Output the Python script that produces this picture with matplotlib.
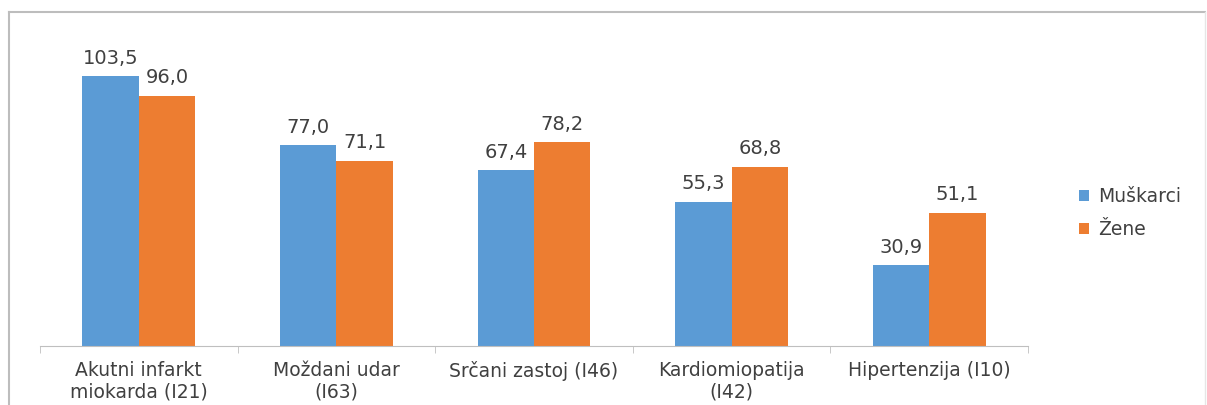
import matplotlib.pyplot as plt
from matplotlib.lines import Line2D
import numpy as np

categories = ["Akutni infarkt\nmiokarda (I21)", "Moždani udar\n(I63)",
              "Srčani zastoj (I46)", "Kardiomiopatija\n(I42)",
              "Hipertenzija (I10)"]
muskarci = [103.5, 77.0, 67.4, 55.3, 30.9]
zene = [96.0, 71.1, 78.2, 68.8, 51.1]
series_names = ["Muškarci", "Žene"]

BLUE = "#5B9BD5"
ORANGE = "#ED7D31"
TEXT = "#404040"

W, H = 1207, 405
fig = plt.figure(figsize=(W / 100, H / 100), dpi=100)
ax = fig.add_axes([40 / W, (H - 346) / H, (1028 - 40) / W, 313 / H])

x = np.arange(len(categories))
width = 0.285
b1 = ax.bar(x - width / 2, muskarci, width, color=BLUE, label=series_names[0])
b2 = ax.bar(x + width / 2, zene, width, color=ORANGE, label=series_names[1])


def fmt(v):
    return "{:.1f}".format(v).replace(".", ",")


for bars, vals in ((b1, muskarci), (b2, zene)):
    for rect, v in zip(bars, vals):
        ax.annotate(fmt(v), (rect.get_x() + rect.get_width() / 2, v),
                    xytext=(0, 6), textcoords="offset points",
                    ha="center", va="bottom", fontsize=14, color=TEXT)

ax.set_xlim(-0.5, len(categories) - 0.5)
ax.set_ylim(0, 120)
ax.set_yticks([])
ax.set_xticks(x)
ax.set_xticklabels(categories, fontsize=13.5, color=TEXT, linespacing=1.15)
ax.tick_params(axis="x", which="major", length=0, pad=11)
ax.set_xticks(np.arange(-0.5, len(categories)), minor=True)
ax.tick_params(axis="x", which="minor", length=5, color="#BFBFBF",
               direction="out")
for side in ("top", "right", "left"):
    ax.spines[side].set_visible(False)
ax.spines["bottom"].set_color("#BFBFBF")

leg = fig.legend(handles=[b1, b2], loc="center left",
                 bbox_to_anchor=(1062 / W, 1 - 213 / H), frameon=False,
                 fontsize=13.5, handlelength=0.55, handleheight=0.55,
                 handletextpad=0.5, labelspacing=0.75)
for t in leg.get_texts():
    t.set_color(TEXT)

# outer chart frame
fig.add_artist(Line2D([9 / W, 1205 / W], [1 - 12 / H, 1 - 12 / H],
                      transform=fig.transFigure, color="#BDBDBD", lw=1.5))
fig.add_artist(Line2D([9 / W, 9 / W], [0, 1 - 12 / H],
                      transform=fig.transFigure, color="#BDBDBD", lw=1.5))
fig.add_artist(Line2D([1205 / W, 1205 / W], [0, 1 - 12 / H],
                      transform=fig.transFigure, color="#E6E6E6", lw=1))

fig.savefig("out.png", dpi=100)
